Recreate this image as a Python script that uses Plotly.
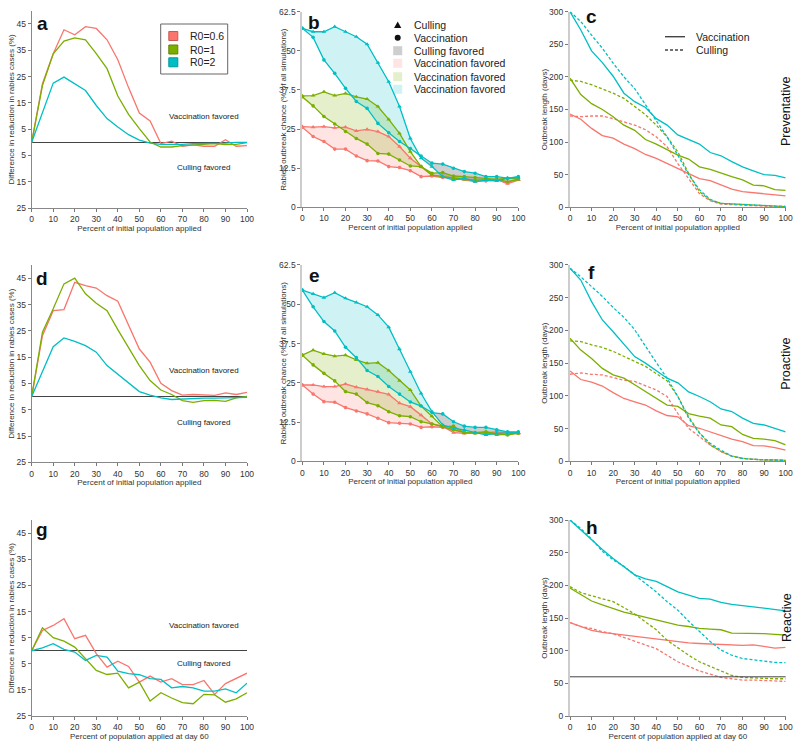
import plotly.graph_objects as go

# ---------------- data ----------------
X = [0, 5, 10, 15, 20, 25, 30, 35, 40, 45, 50, 55, 60, 65, 70, 75, 80, 85, 90, 95, 100]
X_TICKS = [0, 10, 20, 30, 40, 50, 60, 70, 80, 90, 100]
SERIES = ["R0=0.6", "R0=1", "R0=2"]

# difference in reduction (a, d, g)
a_red = [0, 22.3, 33.7, 42.8, 40.9, 44.0, 43.3, 39.0, 31.4, 20.8, 11.1, 8.1, -0.5, 0.4, -1.5, -1.0, -1.5, -1.5, 1.0, -1.5, -1.3]
a_green = [0, 21.6, 33.7, 38.5, 39.7, 39.0, 33.7, 28.0, 17.6, 10.6, 5.2, 0.1, -1.8, -1.8, -1.3, -1.0, -0.8, -0.5, -0.9, -0.8, -0.1]
a_cyan = [0, 11.3, 22.5, 24.8, 22.3, 19.7, 14.0, 9.0, 5.8, 2.9, 0.8, -0.3, -0.8, -0.8, -0.8, -0.5, -0.5, -0.3, -0.3, 0, 0]

d_red = [0, 23.2, 32.7, 33.1, 43.5, 42.2, 41.3, 38.4, 36.3, 27.0, 18.1, 13.1, 5.1, 2.3, 0.6, 0.8, 0.6, 0.5, 1.4, 0.8, 1.6]
d_green = [0, 24.5, 33.4, 42.9, 45.1, 39.1, 35.5, 32.7, 25.5, 18.8, 11.8, 6.1, 2.5, 0.8, -1.5, -2.2, -1.5, -1.4, -1.8, -0.5, 0.1]
d_cyan = [0, 9.5, 19.0, 22.3, 21.0, 19.4, 16.9, 11.8, 8.4, 5.1, 1.9, 0.6, -0.5, -1.1, -0.9, -0.9, -0.6, -0.6, -0.5, -0.3, -0.3]

g_red = [0, 7.8, 9.7, 12.3, 4.6, 5.9, -1.1, -6.3, -4.0, -6.0, -12.0, -9.7, -12.0, -10.7, -13.0, -13.0, -11.4, -16.7, -12.6, -10.7, -8.6]
g_green = [0, 8.8, 5.0, 3.7, 1.4, -3.1, -7.5, -9.1, -8.6, -14.2, -12.0, -19.3, -16.1, -18.1, -19.9, -20.3, -16.7, -16.9, -19.7, -18.4, -16.1]
g_cyan = [0, 1.1, 2.7, 0.5, -0.5, -3.7, -1.8, -2.4, -7.8, -8.8, -9.2, -10.7, -11.0, -14.2, -13.7, -14.2, -15.5, -15.5, -14.6, -16.1, -12.4]

# outbreak chance (b, e): culling / vaccination
b_red_cull = [25.8, 25.6, 25.8, 25.4, 25.6, 24.4, 24.9, 24.2, 22.6, 19.4, 15.7, 13.0, 10.3, 9.8, 9.3, 8.9, 8.2, 8.7, 8.9, 7.5, 8.7]
b_red_vacc = [25.6, 22.6, 21.0, 18.6, 18.6, 16.4, 14.9, 14.8, 13.0, 12.7, 11.7, 9.8, 10.0, 9.5, 9.3, 9.1, 8.5, 8.4, 8.7, 8.0, 8.9]
b_green_cull = [35.6, 35.7, 36.9, 35.7, 36.4, 35.3, 34.6, 32.2, 28.1, 23.6, 17.8, 13.0, 10.3, 9.8, 9.3, 8.9, 8.7, 8.7, 8.9, 8.2, 8.9]
b_green_vacc = [35.3, 32.4, 29.0, 26.6, 24.2, 22.0, 20.2, 17.2, 17.0, 15.1, 13.2, 13.0, 10.9, 11.1, 10.0, 9.8, 9.5, 9.3, 8.9, 9.3, 9.1]
b_cyan_cull = [57.2, 56.1, 56.1, 57.7, 56.1, 54.5, 52.1, 46.2, 40.1, 32.2, 22.0, 15.7, 13.0, 9.8, 8.7, 9.3, 8.2, 8.7, 8.4, 9.3, 9.6]
b_cyan_vacc = [57.2, 54.3, 47.1, 42.8, 38.0, 33.8, 31.6, 26.8, 23.8, 21.0, 18.8, 16.4, 14.1, 13.8, 12.5, 11.4, 10.9, 9.8, 9.8, 9.3, 9.8]

e_red_cull = [24.3, 24.3, 23.8, 23.8, 24.6, 23.6, 22.9, 22.2, 21.3, 18.5, 17.4, 14.7, 11.9, 11.2, 9.1, 8.9, 9.1, 9.1, 8.9, 9.1, 8.9]
e_red_vacc = [24.3, 21.4, 19.0, 18.8, 17.1, 16.0, 15.1, 13.7, 12.3, 12.1, 11.9, 10.8, 11.0, 10.8, 10.2, 9.4, 9.1, 9.1, 9.4, 9.1, 9.1]
e_green_cull = [33.8, 35.4, 34.2, 33.5, 33.8, 32.3, 31.2, 31.4, 28.9, 25.7, 22.7, 17.6, 14.4, 11.0, 10.0, 9.1, 8.9, 9.1, 8.4, 8.6, 9.1]
e_green_vacc = [33.8, 30.7, 28.0, 25.6, 22.2, 21.4, 18.7, 17.7, 15.8, 14.5, 14.2, 12.6, 11.9, 11.0, 11.2, 9.1, 9.1, 9.4, 8.7, 8.4, 8.9]
e_cyan_cull = [54.5, 53.3, 52.1, 53.7, 51.9, 50.6, 49.2, 46.6, 42.7, 35.7, 28.5, 21.6, 15.8, 11.6, 10.5, 10.0, 9.1, 8.4, 8.9, 8.9, 9.1]
e_cyan_vacc = [54.5, 49.2, 44.5, 41.5, 36.3, 33.0, 28.9, 27.0, 23.8, 21.4, 18.9, 17.6, 15.5, 15.1, 12.6, 11.2, 10.8, 10.8, 10.0, 9.4, 9.4]

# outbreak length (c, f, h): vaccination (solid) / culling (dashed)
c_red_vacc = [143, 135, 121, 110, 106, 97, 90, 81, 75, 67, 60, 51, 44, 41, 34, 28, 24, 22.5, 21.5, 19, 17.5]
c_red_cull = [140, 139, 140, 140, 136, 131, 126, 119, 108, 93, 67, 44, 21, 10, 5, 4, 3, 2, 1.5, 1, 1]
c_green_vacc = [198, 173, 159, 150, 139, 126, 118, 104, 97, 89, 80, 74, 62, 58, 52, 47, 42, 34, 33, 27, 26]
c_green_cull = [195, 193, 188, 182, 175, 167, 155, 142, 126, 108, 85, 52, 24, 11, 6, 5, 4, 3, 2, 1.5, 1]
c_cyan_vacc = [300, 272, 240, 222, 201, 175, 162, 153, 136, 126, 111, 104, 97, 84, 79, 70, 62, 56, 50, 49, 45]
c_cyan_cull = [300, 285, 264, 244, 221, 200, 182, 158, 134, 108, 80, 50, 27, 12, 6, 5, 4, 3, 2, 2, 1.5]

f_red_vacc = [138, 125, 121, 115, 105, 96, 91, 86, 77, 70, 68, 54.5, 50.5, 45, 40, 34, 30, 24, 23.5, 21, 17]
f_red_cull = [133, 135, 133, 132, 128, 124, 122, 115, 109, 99, 73, 50.5, 38, 25, 15, 8, 4.5, 3, 2, 2, 1.5]
f_green_vacc = [188, 170, 157, 142, 132, 127, 117, 107, 96, 86, 84, 73, 69, 66, 55.5, 53, 41, 35, 34, 31.5, 25]
f_green_cull = [184, 183, 178, 174, 168, 160, 152, 145, 134, 123, 99, 68, 44, 25, 15, 8, 4.5, 3, 2, 2, 1.5]
f_cyan_vacc = [295, 277, 244, 216, 198, 179, 160, 150, 139, 127, 120, 106, 99, 91, 80, 76, 66, 58, 55.5, 50.5, 45]
f_cyan_cull = [295, 282, 267, 252, 235, 220, 201, 175, 151, 127, 99, 66, 43, 27.5, 17, 8, 4.5, 3, 2, 2, 1.5]

h_red_vacc = [143, 137, 131, 128, 126, 123, 121, 119, 117, 116, 113, 112, 111, 110, 109, 108, 108, 109, 107, 104, 105]
h_red_cull = [143, 137, 134, 129, 126, 120, 115, 109, 103, 93, 83, 76, 69, 64, 59, 57, 55, 55, 54, 54, 53]
h_green_vacc = [196, 186, 176, 170, 164, 159, 155, 151, 147, 143, 139, 137, 134, 133, 132, 127, 127, 126, 126, 125, 124]
h_green_cull = [198, 189, 184, 180, 175, 166, 156, 144, 132, 116, 104, 93, 83, 76, 68, 62, 59, 58, 57, 57, 57]
h_cyan_vacc = [300, 285, 269, 255, 241, 229, 216, 210, 206, 198, 190, 185, 180, 179, 174, 171, 169, 166, 165, 163, 161]
h_cyan_cull = [300, 287, 271, 252, 239, 229, 216, 203, 190, 175, 162, 145, 129, 114, 101, 93, 88, 86, 83, 82, 81.6]

REACTIVE_DAY = 60

# ---------------- styling ----------------
W, H = 800, 747
FONT = "Liberation Sans, Arial, Helvetica, sans-serif"
COLORS = ["#F8766D", "#7CAE00", "#00BFC4"]
EDGE = ["#c95a52", "#5f8600", "#00989c"]
FILLS = ["rgba(248,118,109,0.20)", "rgba(124,174,0,0.20)", "rgba(0,191,196,0.19)"]
GRAY_FILL = "rgba(120,120,120,0.36)"
TXT = "#222222"

def px(x):
    return x / W

def py(y):
    return 1 - y / H

X_COLS = [[0.0396, 0.30875], [0.3779, 0.6479], [0.7125, 0.9821]]
Y_DIFF = {"a": [0.72155, 0.98547], "d": [0.38112, 0.64498], "g": [0.0415, 0.30355]}
Y_OTHER = {"b": [0.7225, 0.98434], "c": [0.7225, 0.98434], "e": [0.38246, 0.64525],
           "f": [0.38246, 0.64525], "h": [0.0415, 0.30388]}

# panel -> axis index, column
PANELS = {"a": (1, 0), "b": (2, 1), "c": (3, 2), "d": (4, 0), "e": (5, 1),
          "f": (6, 2), "g": (7, 0), "h": (8, 2)}

fig = go.Figure()


def axn(p):
    i = PANELS[p][0]
    return ("x" if i == 1 else f"x{i}"), ("y" if i == 1 else f"y{i}")


def add_line(p, y, color, dash="solid", symbol=None):
    xa, ya = axn(p)
    mode = "lines+markers" if symbol else "lines"
    fig.add_trace(go.Scatter(
        x=X, y=y, mode=mode, xaxis=xa, yaxis=ya, showlegend=False, hoverinfo="skip",
        cliponaxis=False,
        line=dict(color=color, width=1.3, dash=dash),
        marker=dict(symbol=symbol or "circle", size=4.2 if symbol == "triangle-up" else 3.6,
                    color=color, line=dict(width=0))))


def add_band(p, upper, lower, fillcolor):
    xa, ya = axn(p)
    fig.add_trace(go.Scatter(
        x=X + X[::-1], y=upper + lower[::-1], mode="lines", fill="toself",
        fillcolor=fillcolor, line=dict(width=0), xaxis=xa, yaxis=ya,
        showlegend=False, hoverinfo="skip"))


# diff panels
for p, ser in (("a", [a_red, a_green, a_cyan]), ("d", [d_red, d_green, d_cyan]),
               ("g", [g_red, g_green, g_cyan])):
    for s, c in zip(ser, COLORS):
        add_line(p, s, c)

# outbreak chance panels
for p, pairs in (("b", [(b_red_cull, b_red_vacc), (b_green_cull, b_green_vacc), (b_cyan_cull, b_cyan_vacc)]),
                 ("e", [(e_red_cull, e_red_vacc), (e_green_cull, e_green_vacc), (e_cyan_cull, e_cyan_vacc)])):
    for (cull, vacc), fc in zip(pairs, FILLS):
        low = [min(u, v) for u, v in zip(cull, vacc)]
        add_band(p, cull, low, fc)          # vaccination favored
    for (cull, vacc), fc in zip(pairs, FILLS):
        low = [min(u, v) for u, v in zip(cull, vacc)]
        add_band(p, vacc, low, GRAY_FILL)   # culling favored
    for (cull, vacc), c in zip(pairs, COLORS):
        add_line(p, cull, c, symbol="triangle-up")
        add_line(p, vacc, c, symbol="circle")

# outbreak length panels
for p, pairs in (("c", [(c_red_vacc, c_red_cull), (c_green_vacc, c_green_cull), (c_cyan_vacc, c_cyan_cull)]),
                 ("f", [(f_red_vacc, f_red_cull), (f_green_vacc, f_green_cull), (f_cyan_vacc, f_cyan_cull)]),
                 ("h", [(h_red_vacc, h_red_cull), (h_green_vacc, h_green_cull), (h_cyan_vacc, h_cyan_cull)])):
    for (vacc, cull), c in zip(pairs, COLORS):
        add_line(p, vacc, c)
        add_line(p, cull, c, dash="3px,2px")

# ---------------- axes ----------------
XT_INIT = "Percent of initial population applied"
XT_DAY = "Percent of population applied at day 60"
YT = {"diff": "Difference in reduction in rabies cases (%)",
      "chance": "Rabies outbreak chance (% of all simulations)",
      "length": "Outbreak length (days)"}

ann = []
layout_axes = {}
for p, (i, col) in PANELS.items():
    xk = "xaxis" if i == 1 else f"xaxis{i}"
    yk = "yaxis" if i == 1 else f"yaxis{i}"
    xa, ya = axn(p)
    kind = "diff" if p in "adg" else ("chance" if p in "be" else "length")
    ydom = Y_DIFF[p] if kind == "diff" else Y_OTHER[p]
    layout_axes[xk] = dict(
        domain=X_COLS[col], anchor=ya, range=[0, 100], tickvals=X_TICKS,
        ticks="outside", ticklen=3, tickwidth=1, tickcolor="#777",
        showline=True, linecolor="#888", linewidth=1, showgrid=False, zeroline=False,
        tickfont=dict(size=8.5, color="#333"),
        title=dict(text=XT_DAY if p in "gh" else XT_INIT, font=dict(size=8, color="#333"), standoff=1),
    )
    ydict = dict(
        domain=ydom, anchor=xa, ticks="outside", ticklen=3, tickwidth=1, tickcolor="#777",
        showline=True, showgrid=False,
        tickfont=dict(size=8.5, color="#333"),
    )
    if kind == "diff":
        ydict.update(range=[-25, 50], tickvals=[45, 35, 25, 15, 5, -5, -15, -25],
                     ticktext=["45", "35", "25", "15", "5", "5", "15", "25"],
                     zeroline=True, zerolinecolor="#444", zerolinewidth=1,
                     linecolor="#888", linewidth=1,
                     title=dict(text=YT[kind], font=dict(size=8, color="#333"), standoff=0))
    elif kind == "chance":
        ydict.update(range=[0, 62.5], tickvals=[0, 12.5, 25, 37.5, 50, 62.5],
                     ticktext=["0", "12.5", "25", "37.5", "50", "62.5"],
                     zeroline=False, linecolor="#cccccc", linewidth=2)
        # title overlaps tick labels in the original, so place it as an annotation
        ann.append(dict(text=YT[kind], x=px(283.3), y=sum(ydom) / 2, xref="paper", yref="paper",
                        showarrow=False, textangle=-90, xanchor="center", yanchor="middle",
                        font=dict(size=8, color="#333")))
    else:
        ydict.update(range=[0, 300], tickvals=[0, 50, 100, 150, 200, 250, 300],
                     zeroline=False, linecolor="#cccccc", linewidth=2,
                     title=dict(text=YT[kind], font=dict(size=8, color="#333"), standoff=0))
    layout_axes[yk] = ydict

# ---------------- annotations ----------------
LETTERS = {"a": (42, 23.6), "b": (314.3, 22.6), "c": (591.3, 16), "d": (41.7, 278.6),
           "e": (314.3, 275), "f": (591.7, 272.6), "g": (42, 529.6), "h": (591.7, 527)}
for t, (x, y) in LETTERS.items():
    ann.append(dict(text=f"<b>{t}</b>", x=px(x), y=py(y), xref="paper", yref="paper",
                    showarrow=False, xanchor="center", yanchor="middle",
                    font=dict(size=19, color="#111")))

FAV = {"a": (9.7, -9.7), "d": (9.9, -10.0), "g": (9.7, -5.0)}
for p, (yv, yc) in FAV.items():
    xa, ya = axn(p)
    ann.append(dict(text="Vaccination favored", x=80, y=yv, xref=xa, yref=ya, showarrow=False,
                    font=dict(size=8, color=TXT)))
    ann.append(dict(text="Culling favored", x=80, y=yc, xref=xa, yref=ya, showarrow=False,
                    font=dict(size=8, color=TXT)))

for t, (x, y) in {"Preventative": (786, 111), "Proactive": (786, 363.7), "Reactive": (786.5, 617.5)}.items():
    ann.append(dict(text=t, x=px(x), y=py(y), xref="paper", yref="paper", showarrow=False,
                    textangle=-90, xanchor="center", yanchor="middle",
                    font=dict(size=12.5, color="#111")))

shapes = []
# reactive day reference line in h
shapes.append(dict(type="line", xref="x8 domain", yref="y8", x0=0, x1=1,
                   y0=REACTIVE_DAY, y1=REACTIVE_DAY, line=dict(color="#444", width=1)))

# legend for a
shapes.append(dict(type="rect", xref="paper", yref="paper", x0=px(160.7), x1=px(227.7),
                   y0=py(74), y1=py(24), line=dict(color="#666", width=1), fillcolor="white"))
for name, c, e, cy in zip(SERIES, COLORS, EDGE, [36, 49.5, 62.3]):
    shapes.append(dict(type="rect", xref="paper", yref="paper", x0=px(173.3 - 4.5), x1=px(173.3 + 4.5),
                       y0=py(cy + 4.5), y1=py(cy - 4.5), fillcolor=c, line=dict(color=e, width=1)))
    ann.append(dict(text=name, x=px(187.7), y=py(cy), xref="paper", yref="paper", showarrow=False,
                    xanchor="left", yanchor="middle", font=dict(size=10.5, color=TXT)))

# legend for b
LB_X, LB_T = 397.7, 411.7
LB_ROWS = [25, 37.7, 50.7, 63.3, 76.7, 89.3]
LB_TEXT = ["Culling", "Vaccination", "Culling favored", "Vaccination favored",
           "Vaccination favored", "Vaccination favored"]
cy = LB_ROWS[0]
shapes.append(dict(type="path", xref="paper", yref="paper",
                   path=f"M {px(LB_X-3.6)},{py(cy+3)} L {px(LB_X+3.6)},{py(cy+3)} L {px(LB_X)},{py(cy-3.6)} Z",
                   fillcolor="#111", line=dict(width=0)))
cy = LB_ROWS[1]
shapes.append(dict(type="circle", xref="paper", yref="paper", x0=px(LB_X - 3), x1=px(LB_X + 3),
                   y0=py(cy + 3), y1=py(cy - 3), fillcolor="#111", line=dict(width=0)))
for fc, cy in zip([GRAY_FILL] + FILLS, LB_ROWS[2:]):
    shapes.append(dict(type="rect", xref="paper", yref="paper", x0=px(LB_X - 4.5), x1=px(LB_X + 4.5),
                       y0=py(cy + 4.5), y1=py(cy - 4.5), fillcolor=fc, line=dict(width=0)))
for t, cy in zip(LB_TEXT, LB_ROWS):
    ann.append(dict(text=t, x=px(LB_T), y=py(cy), xref="paper", yref="paper", showarrow=False,
                    xanchor="left", yanchor="middle", font=dict(size=10.5, color=TXT)))

# legend for c
for t, dash, cy in (("Vaccination", "solid", 36.7), ("Culling", "3px,2px", 50)):
    shapes.append(dict(type="line", xref="paper", yref="paper", x0=px(665), x1=px(685),
                       y0=py(cy), y1=py(cy), line=dict(color="#444", width=1.4, dash=dash)))
    ann.append(dict(text=t, x=px(694.3), y=py(cy), xref="paper", yref="paper", showarrow=False,
                    xanchor="left", yanchor="middle", font=dict(size=10.5, color=TXT)))

fig.update_layout(
    template="none",
    width=W, height=H, autosize=False,
    margin=dict(l=0, r=0, t=0, b=0, pad=0),
    paper_bgcolor="white", plot_bgcolor="white",
    font=dict(family=FONT, color=TXT),
    showlegend=False,
    annotations=ann, shapes=shapes,
    **layout_axes,
)

fig.write_html("out.html",
               config={"displayModeBar": False, "staticPlot": True},
               post_script="document.body.style.margin='0px';document.body.style.overflow='hidden';")
